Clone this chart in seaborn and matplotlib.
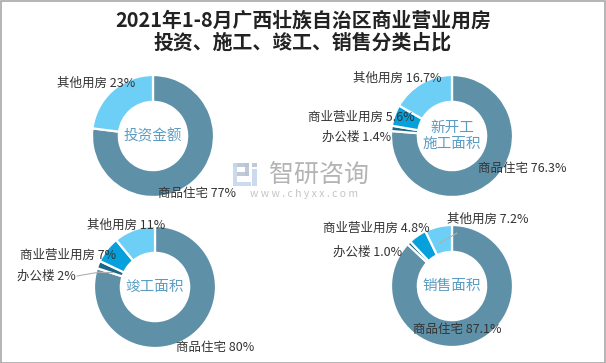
import matplotlib
matplotlib.use("Agg")
import matplotlib.pyplot as plt
import seaborn as sns
from matplotlib.patches import Rectangle
from matplotlib.lines import Line2D

sns.set_theme(style="white")
plt.rcParams['font.family'] = ['Noto Sans CJK SC', 'DejaVu Sans']

# ---------------- data ----------------
title_lines = ["2021年1-8月广西壮族自治区商业营业用房", "投资、施工、竣工、销售分类占比"]

invest_cats = ["商品住宅", "其他用房"]
invest_values = [77, 23]

new_cats = ["商品住宅", "办公楼", "商业营业用房", "其他用房"]
new_values = [76.3, 1.4, 5.6, 16.7]

done_cats = ["商品住宅", "办公楼", "商业营业用房", "其他用房"]
done_values = [80, 2, 7, 11]

sales_cats = ["商品住宅", "办公楼", "商业营业用房", "其他用房"]
sales_values = [87.1, 1.0, 4.8, 7.2]

center_titles = ["投资金额", "新开工\n施工面积", "竣工面积", "销售面积"]

color_map = {"商品住宅": "#5e91a8", "办公楼": "#1a6786",
             "商业营业用房": "#06a1dc", "其他用房": "#6dcff6"}

# ---------------- layout ----------------
W, H = 606, 363
R = 61  # outer radius in px
fig = plt.figure(figsize=(W / 100, H / 100), dpi=100)
fig.patch.set_facecolor("white")

def fx(x):
    return x / W

def fy(y):
    return 1 - y / H

def donut(cx, cy, cats, vals, decimals, center_text, label_pos, leaders=()):
    half = 100
    ax = fig.add_axes([fx(cx - half), fy(cy + half), 2 * half / W, 2 * half / H])
    ax.pie(vals, colors=[color_map[c] for c in cats], startangle=90,
           counterclock=False, radius=1,
           wedgeprops=dict(width=0.44, edgecolor="white", linewidth=1.6))
    ax.set_xlim(-half / R, half / R)
    ax.set_ylim(-half / R, half / R)
    ax.set_aspect("equal")
    ax.axis("off")
    ax.text(0, 0, center_text, ha="center", va="center", fontsize=10.5,
            color="#5b9cc2", linespacing=1.15)
    for c, v in zip(cats, vals):
        x, y = label_pos[c]
        fig.text(fx(x), fy(y), f"{c} {v:.{decimals}f}%", ha="left", va="center",
                 fontsize=9, color="#333333")
    for (x0, y0, x1, y1) in leaders:
        fig.add_artist(Line2D([fx(x0), fx(x1)], [fy(y0), fy(y1)],
                              color="#b0b0b0", lw=0.8))
    return ax

# title
fig.text(0.5, fy(20), title_lines[0], ha="center", va="center", fontsize=14.3,
         fontweight="bold", color="#222222")
fig.text(0.5, fy(42), title_lines[1], ha="center", va="center", fontsize=14.3,
         fontweight="bold", color="#222222")

donut(153, 136, invest_cats, invest_values, 0, center_titles[0],
      {"其他用房": (57, 83), "商品住宅": (158, 193)})
donut(452, 136, new_cats, new_values, 1, center_titles[1],
      {"其他用房": (353, 78), "商业营业用房": (308, 117), "办公楼": (322, 137),
       "商品住宅": (478, 169)})
donut(155, 287, done_cats, done_values, 0, center_titles[2],
      {"其他用房": (87, 225), "商业营业用房": (20, 255), "办公楼": (17, 276),
       "商品住宅": (176, 347)},
      leaders=[(77, 276, 100, 272), (100, 272, 112, 272)])
donut(452, 286, sales_cats, sales_values, 1, center_titles[3],
      {"其他用房": (447, 219), "商业营业用房": (323, 228), "办公楼": (333, 252),
       "商品住宅": (413, 330)},
      leaders=[(457, 233, 440, 243)])

# watermark
def prect(x0, y0, x1, y1, color):
    fig.add_artist(Rectangle((fx(x0), fy(y1)), (x1 - x0) / W, (y1 - y0) / H,
                             transform=fig.transFigure, color=color, lw=0, alpha=0.9))

prect(233, 163, 249, 167, "#b9c3d3")
prect(245, 163, 249, 176, "#b9c3d3")
prect(237, 172, 249, 176, "#b9c3d3")
prect(233, 163, 237, 186, "#c6d8ec")
prect(237, 182, 251, 186, "#c6d8ec")
prect(252, 163, 257, 167, "#b9c3d3")
prect(252, 169, 257, 186, "#c6d8ec")
fig.text(fx(319), fy(175), "智研咨询", ha="center", va="center", fontsize=18,
         color="#b4b4b4")
fig.text(fx(304), fy(194), "w w w . c h y x x . c o m", ha="center", va="center",
         fontsize=7.5, color="#c4c4c4")

# border
fig.add_artist(Rectangle((0.5 / W, 0.5 / H), 1 - 1.5 / W, 1 - 1.5 / H,
                         transform=fig.transFigure, fill=False,
                         edgecolor="#a8a8a8", lw=1.2))

fig.savefig("out.png", dpi=100, facecolor="white")
